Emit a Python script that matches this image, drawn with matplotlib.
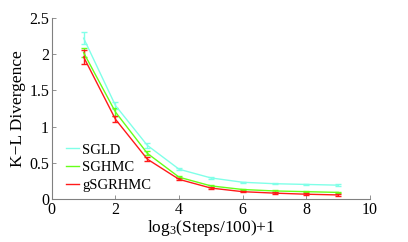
import matplotlib
matplotlib.use('Agg')
import matplotlib.pyplot as plt
from matplotlib.lines import Line2D

steps = [1, 2, 3, 4, 5, 6, 7, 8, 9]

sgld = [2.22, 1.29, 0.74, 0.41, 0.29, 0.23, 0.21, 0.20, 0.19]
sgld_err = [0.08, 0.05, 0.03, 0.015, 0.01, 0.01, 0.01, 0.01, 0.01]

sghmc = [2.02, 1.20, 0.63, 0.30, 0.18, 0.13, 0.11, 0.10, 0.09]
sghmc_err = [0.06, 0.05, 0.03, 0.015, 0.01, 0.01, 0.01, 0.01, 0.01]

gsgrhmc = [1.96, 1.10, 0.55, 0.27, 0.15, 0.10, 0.08, 0.065, 0.055]
gsgrhmc_err = [0.09, 0.04, 0.03, 0.015, 0.01, 0.01, 0.01, 0.01, 0.01]

plt.rcParams['font.family'] = ['Liberation Serif', 'DejaVu Serif']
plt.rcParams['mathtext.fontset'] = 'custom'
plt.rcParams['mathtext.rm'] = 'Liberation Serif'
plt.rcParams['mathtext.it'] = 'Liberation Serif'

fig = plt.figure(figsize=(4.08, 2.42), dpi=100)
ax = fig.add_axes([0.127, 0.178, 0.78, 0.748])

series = [
    ("SGLD", sgld, sgld_err, '#80ffe8'),
    ("SGHMC", sghmc, sghmc_err, '#66ff1a'),
    ("gSGRHMC", gsgrhmc, gsgrhmc_err, '#ff1a1a'),
]
handles = []
for name, vals, err, col in series:
    ax.errorbar(steps, vals, yerr=err, color=col, lw=1.0, capsize=2.5,
                elinewidth=1.0, capthick=1.0)
    handles.append(Line2D([], [], color=col, lw=1.0, label=name))

ax.set_xlim(0, 10)
ax.set_ylim(0, 2.5)
ax.set_xticks([0, 2, 4, 6, 8, 10])
ax.set_yticks([0, 0.5, 1, 1.5, 2, 2.5])
ax.set_yticklabels(['0', '0.5', '1', '1.5', '2', '2.5'])
ax.tick_params(direction='in', length=3, width=0.6, color='#808080', labelsize=11.5, pad=2)
for s in ['top', 'right']:
    ax.spines[s].set_visible(False)
for s in ['left', 'bottom']:
    ax.spines[s].set_color('#808080')
    ax.spines[s].set_linewidth(0.8)

ax.set_xlabel(r"log$_3$(Steps/100)+1", fontsize=12.5, labelpad=0)
ax.set_ylabel("K\u2212L Divergence", fontsize=12.5, labelpad=2)

ax.legend(handles=handles, loc='lower left', bbox_to_anchor=(0.045, 0.04), frameon=False,
          fontsize=10.5, handlelength=0.9, handletextpad=0.2, labelspacing=0.3,
          borderpad=0, borderaxespad=0)

fig.savefig('out.png', dpi=100)
